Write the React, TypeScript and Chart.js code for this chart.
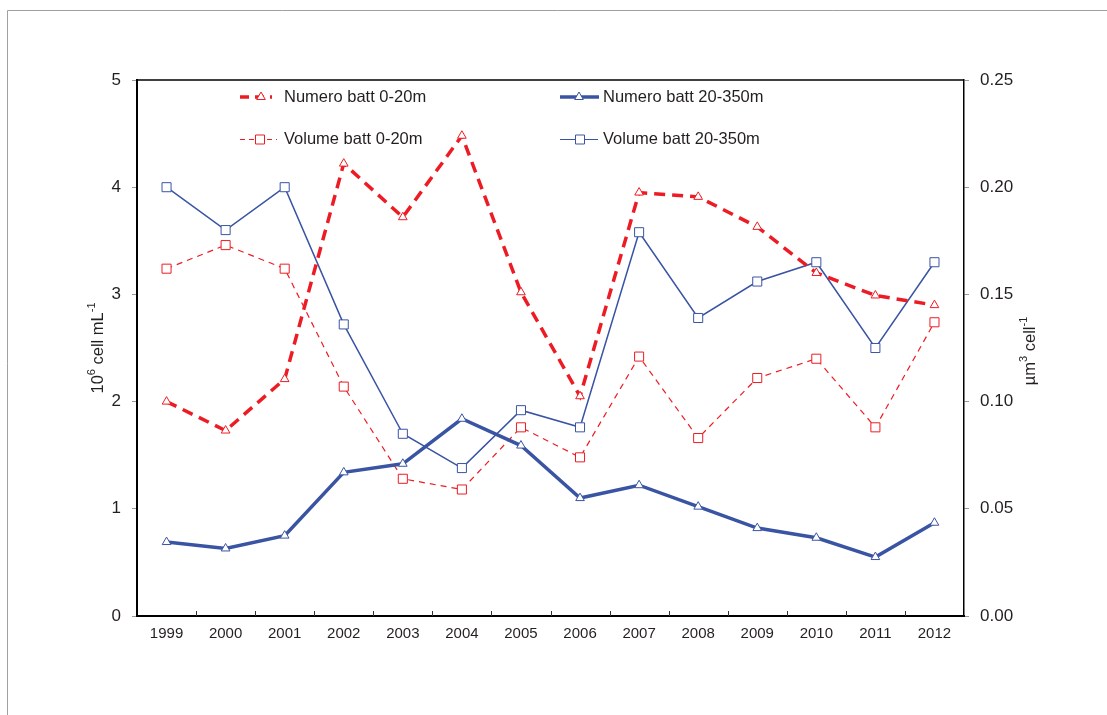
import React, { useEffect, useRef } from 'react';
import { Chart, registerables } from 'chart.js';

Chart.register(...registerables);

const years = ['1999', '2000', '2001', '2002', '2003', '2004', '2005', '2006', '2007', '2008', '2009', '2010', '2011', '2012'];
const numero0_20 = [2.0, 1.73, 2.21, 4.22, 3.72, 4.48, 3.02, 2.05, 3.95, 3.91, 3.63, 3.2, 2.99, 2.9];
const numero20_350 = [0.69, 0.63, 0.75, 1.34, 1.42, 1.84, 1.59, 1.1, 1.22, 1.02, 0.82, 0.73, 0.55, 0.87];
const volume0_20 = [0.162, 0.173, 0.162, 0.107, 0.064, 0.059, 0.088, 0.074, 0.121, 0.083, 0.111, 0.12, 0.088, 0.137];
const volume20_350 = [0.2, 0.18, 0.2, 0.136, 0.085, 0.069, 0.096, 0.088, 0.179, 0.139, 0.156, 0.165, 0.125, 0.165];

const seriesNames = ['Numero batt 0-20m', 'Numero batt 20-350m', 'Volume batt 0-20m', 'Volume batt 20-350m'];
const leftTitle = ['10', '6', ' cell mL', '-1'];
const rightTitle = ['µm', '3', ' cell', '-1'];

const RED = 'rgb(237,28,36)';
const BLUE = 'rgb(58,84,164)';
const FONT = '"Liberation Sans", Arial, sans-serif';
const TEXT = '#231f20';

function drawMarker(ctx: CanvasRenderingContext2D, style: string, x: number, y: number, color: string) {
  ctx.save();
  ctx.setLineDash([]);
  ctx.lineWidth = 1;
  ctx.strokeStyle = color;
  ctx.fillStyle = '#fff';
  ctx.beginPath();
  if (style === 'triangle') {
    const r = 5;
    ctx.moveTo(x, y - r);
    ctx.lineTo(x + r * Math.sin((2 * Math.PI) / 3), y - r * Math.cos((2 * Math.PI) / 3));
    ctx.lineTo(x + r * Math.sin((4 * Math.PI) / 3), y - r * Math.cos((4 * Math.PI) / 3));
    ctx.closePath();
  } else {
    const s = 4.5;
    ctx.rect(x - s, y - s, 2 * s, 2 * s);
  }
  ctx.fill();
  ctx.stroke();
  ctx.restore();
}

function drawSupText(ctx: CanvasRenderingContext2D, parts: string[], cx: number, cy: number) {
  const big = `16.5px ${FONT}`;
  const small = `11px ${FONT}`;
  ctx.save();
  ctx.translate(cx, cy);
  ctx.rotate(-Math.PI / 2);
  ctx.fillStyle = TEXT;
  ctx.textBaseline = 'middle';
  ctx.textAlign = 'left';
  let total = 0;
  parts.forEach((p, i) => {
    ctx.font = i % 2 === 0 ? big : small;
    total += ctx.measureText(p).width;
  });
  let x = -total / 2;
  parts.forEach((p, i) => {
    ctx.font = i % 2 === 0 ? big : small;
    ctx.fillText(p, x, i % 2 === 0 ? 0 : -6);
    x += ctx.measureText(p).width;
  });
  ctx.restore();
}

const decorPlugin = {
  id: 'decor',
  beforeDraw(chart: any) {
    const ctx = chart.ctx as CanvasRenderingContext2D;
    ctx.save();
    ctx.strokeStyle = '#a0a0a0';
    ctx.lineWidth = 1;
    ctx.beginPath();
    ctx.moveTo(7.5, 800);
    ctx.lineTo(7.5, 10.5);
    ctx.lineTo(1200, 10.5);
    ctx.stroke();
    ctx.restore();
  },
  afterDraw(chart: any) {
    const ctx = chart.ctx as CanvasRenderingContext2D;
    const area = chart.chartArea;
    const xs = chart.scales.x;
    ctx.save();
    // top border of plot box
    ctx.strokeStyle = '#000';
    ctx.lineWidth = 1.5;
    ctx.beginPath();
    ctx.moveTo(area.left, area.top);
    ctx.lineTo(area.right, area.top);
    ctx.stroke();
    // category separators on the x axis (inside)
    ctx.strokeStyle = '#333';
    ctx.lineWidth = 1;
    for (let i = 1; i < years.length; i++) {
      const xm = Math.round((xs.getPixelForValue(i - 1) + xs.getPixelForValue(i)) / 2) + 0.5;
      ctx.beginPath();
      ctx.moveTo(xm, area.bottom);
      ctx.lineTo(xm, area.bottom - 5);
      ctx.stroke();
    }
    ctx.restore();

    // axis titles
    drawSupText(ctx, leftTitle, 98, (area.top + area.bottom) / 2);
    drawSupText(ctx, rightTitle, 1030, (area.top + area.bottom) / 2 + 3);

    // legend
    const items = [
      { name: seriesNames[0], color: RED, width: 3.5, dash: [9, 6], marker: 'triangle', x1: 240, x2: 272, mx: 261, tx: 284, y: 97 },
      { name: seriesNames[1], color: BLUE, width: 3.5, dash: [], marker: 'triangle', x1: 560, x2: 599, mx: 579, tx: 603, y: 97 },
      { name: seriesNames[2], color: RED, width: 1.2, dash: [5, 4], marker: 'rect', x1: 240, x2: 277, mx: 260, tx: 284, y: 139.5 },
      { name: seriesNames[3], color: BLUE, width: 1.2, dash: [], marker: 'rect', x1: 560, x2: 598, mx: 580, tx: 603, y: 139.5 },
    ];
    items.forEach((it) => {
      ctx.save();
      ctx.strokeStyle = it.color;
      ctx.lineWidth = it.width;
      ctx.setLineDash(it.dash);
      ctx.beginPath();
      ctx.moveTo(it.x1, it.y);
      ctx.lineTo(it.x2, it.y);
      ctx.stroke();
      ctx.restore();
      drawMarker(ctx, it.marker, it.mx, it.y, it.color);
      ctx.save();
      ctx.fillStyle = TEXT;
      ctx.font = `16.5px ${FONT}`;
      ctx.textBaseline = 'middle';
      ctx.textAlign = 'left';
      ctx.fillText(it.name, it.tx, it.y);
      ctx.restore();
    });
  },
};

export default function App() {
  const ref = useRef<HTMLCanvasElement | null>(null);

  useEffect(() => {
    document.body.style.margin = '0';
    const canvas = ref.current;
    if (!canvas) return;
    const chart = new Chart(canvas, {
      type: 'line',
      data: {
        labels: years,
        datasets: [
          {
            label: seriesNames[0],
            data: numero0_20,
            yAxisID: 'y',
            borderColor: RED,
            borderWidth: 3.5,
            borderDash: [11, 7],
            pointStyle: 'triangle',
            pointRadius: 5,
            pointBorderWidth: 1,
            pointBackgroundColor: '#fff',
            pointBorderColor: RED,
            tension: 0,
            order: 1,
          },
          {
            label: seriesNames[1],
            data: numero20_350,
            yAxisID: 'y',
            borderColor: BLUE,
            borderWidth: 3.5,
            pointStyle: 'triangle',
            pointRadius: 5,
            pointBorderWidth: 1,
            pointBackgroundColor: '#fff',
            pointBorderColor: BLUE,
            tension: 0,
            order: 2,
          },
          {
            label: seriesNames[2],
            data: volume0_20,
            yAxisID: 'y2',
            borderColor: RED,
            borderWidth: 1.2,
            borderDash: [6, 5],
            pointStyle: 'rect',
            pointRadius: 6.4,
            pointBorderWidth: 1,
            pointBackgroundColor: '#fff',
            pointBorderColor: RED,
            tension: 0,
            order: 3,
          },
          {
            label: seriesNames[3],
            data: volume20_350,
            yAxisID: 'y2',
            borderColor: BLUE,
            borderWidth: 1.5,
            pointStyle: 'rect',
            pointRadius: 6.4,
            pointBorderWidth: 1,
            pointBackgroundColor: '#fff',
            pointBorderColor: BLUE,
            tension: 0,
            order: 4,
          },
        ],
      },
      options: {
        animation: false,
        responsive: false,
        devicePixelRatio: 1,
        layout: { padding: { top: 80, left: 0, right: 0, bottom: 0 } },
        plugins: { legend: { display: false }, tooltip: { enabled: false } },
        scales: {
          x: {
            type: 'category',
            offset: true,
            grid: { display: true, drawOnChartArea: false, drawTicks: false },
            border: { display: true, color: '#000', width: 2 },
            ticks: { color: TEXT, font: { family: FONT, size: 15 }, padding: 9, maxRotation: 0 },
            afterFit: (s: any) => {
              s.height = 99;
            },
          },
          y: {
            position: 'left',
            min: 0,
            max: 5,
            ticks: { stepSize: 1, color: TEXT, font: { family: FONT, size: 17 }, padding: 11 },
            grid: { drawOnChartArea: false, drawTicks: true, tickLength: 5, tickColor: '#999', tickWidth: 1 },
            border: { display: true, color: '#000', width: 2 },
            afterFit: (s: any) => {
              s.width = 137;
            },
          },
          y2: {
            position: 'right',
            min: 0,
            max: 0.25,
            ticks: {
              stepSize: 0.05,
              color: TEXT,
              font: { family: FONT, size: 17 },
              padding: 11,
              callback: (v: any) => Number(v).toFixed(2),
            },
            grid: { drawOnChartArea: false, drawTicks: true, tickLength: 5, tickColor: '#999', tickWidth: 1 },
            border: { display: true, color: '#000', width: 1.5 },
            afterFit: (s: any) => {
              s.width = 143;
            },
          },
        },
      } as any,
      plugins: [decorPlugin],
    });
    return () => chart.destroy();
  }, []);

  return (
    <div style={{ position: 'relative', width: 1107, height: 715, background: '#fff' }}>
      <canvas ref={ref} width={1107} height={715} style={{ width: 1107, height: 715, display: 'block' }} />
    </div>
  );
}
